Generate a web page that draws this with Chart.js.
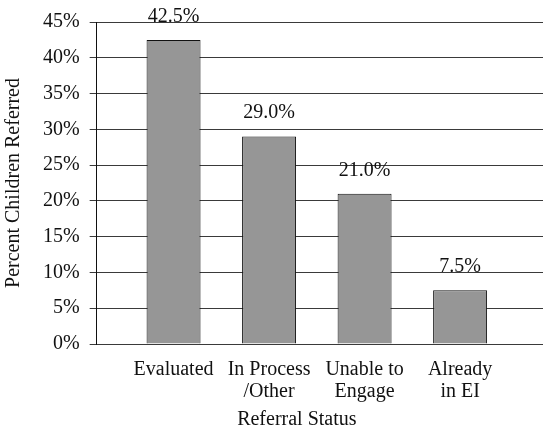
<!DOCTYPE html>
<html>
<head>
<meta charset="utf-8">
<script src="https://cdn.jsdelivr.net/npm/chart.js@4.4.1/dist/chart.umd.min.js"></script>
<style>
  html, body { margin: 0; padding: 0; background: #fff; overflow: hidden; }
  #wrap { width: 543px; height: 438px; }
</style>
</head>
<body>
<div id="wrap"><canvas id="c" width="543" height="438"></canvas></div>
<script>
// Referral outcomes for children referred to early intervention
const categories = [
  ['Evaluated'],
  ['In Process', '/Other'],
  ['Unable to', 'Engage'],
  ['Already', 'in EI']
];
const percentReferred = [42.5, 29.0, 21.0, 7.5];
const yTicks = [0, 5, 10, 15, 20, 25, 30, 35, 40, 45];
const yTitle = 'Percent Children Referred';
const xTitle = 'Referral Status';

const FONT = 'Liberation Serif, Times New Roman, serif';
const SIZE = 20;

// value labels printed above each bar
const valueLabels = {
  id: 'valueLabels',
  afterDatasetsDraw(chart) {
    const ctx = chart.ctx;
    const meta = chart.getDatasetMeta(0);
    ctx.save();
    ctx.font = SIZE + 'px ' + FONT;
    ctx.fillStyle = '#111';
    ctx.textAlign = 'center';
    ctx.textBaseline = 'alphabetic';
    meta.data.forEach((bar, i) => {
      ctx.fillText(percentReferred[i].toFixed(1) + '%', bar.x, bar.y - 18);
    });
    ctx.restore();
  }
};

// caption under the category labels
const axisCaption = {
  id: 'axisCaption',
  afterDraw(chart) {
    const ctx = chart.ctx;
    const area = chart.chartArea;
    ctx.save();
    ctx.font = SIZE + 'px ' + FONT;
    ctx.fillStyle = '#111';
    ctx.textAlign = 'center';
    ctx.textBaseline = 'alphabetic';
    ctx.fillText(xTitle, (area.left + area.right) / 2 - 23, chart.height - 13);
    ctx.restore();
  }
};

new Chart(document.getElementById('c'), {
  type: 'bar',
  data: {
    datasets: [{
      data: percentReferred.map((v, i) => ({ x: i, y: v })),
      backgroundColor: '#969696',
      borderColor: '#111',
      borderWidth: 1,
      categoryPercentage: 1,
      barPercentage: 0.565
    }]
  },
  options: {
    responsive: false,
    animation: false,
    layout: { padding: { top: 18, left: 2, right: 0, bottom: 20 } },
    plugins: { legend: { display: false }, tooltip: { enabled: false } },
    scales: {
      x: {
        type: 'linear',
        offset: false,
        min: -0.805,
        max: 3.868,
        afterBuildTicks: (scale) => { scale.ticks = categories.map((c, i) => ({ value: i })); },
        grid: { display: false, drawTicks: false },
        border: { display: false },
        ticks: {
          autoSkip: false,
          maxRotation: 0,
          padding: 15,
          color: '#111',
          font: { family: FONT, size: SIZE, lineHeight: 1.1 },
          callback: (v) => categories[v]
        }
      },
      y: {
        min: 0,
        max: 45,
        afterBuildTicks: (scale) => { scale.ticks = yTicks.map(v => ({ value: v })); },
        grid: { color: '#3a3a3a', lineWidth: 1, tickLength: 7, drawTicks: true },
        border: { display: true, color: '#111', width: 1 },
        ticks: {
          padding: 10,
          color: '#111',
          font: { family: FONT, size: SIZE },
          callback: (v) => v + '%'
        },
        title: {
          display: true,
          text: yTitle,
          color: '#111',
          font: { family: FONT, size: SIZE },
          padding: { top: 0, bottom: 7 }
        }
      }
    }
  },
  plugins: [valueLabels, axisCaption]
});
</script>
</body>
</html>
